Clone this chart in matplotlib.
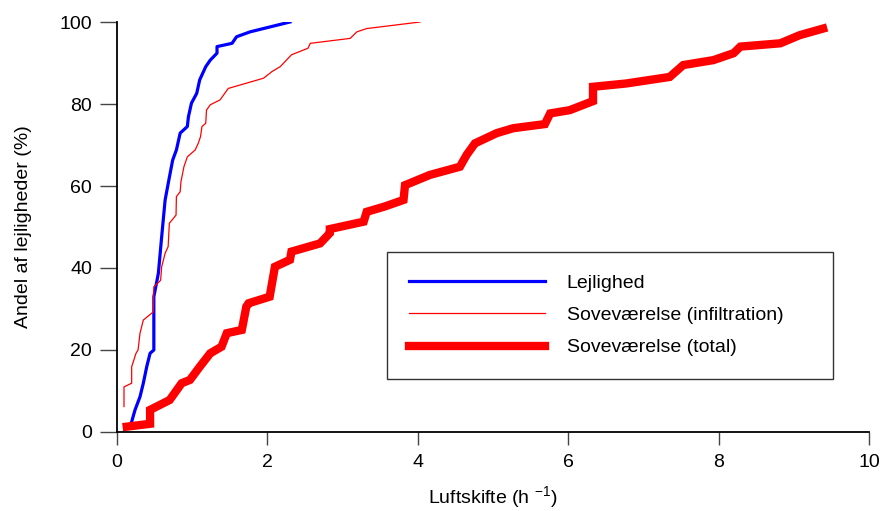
import matplotlib
matplotlib.use("Agg")
import matplotlib.pyplot as plt

plt.rcParams['font.family'] = ['Liberation Sans', 'DejaVu Sans']
plt.rcParams['mathtext.default'] = 'regular'

# Lejlighed (apartment)
lej_x = [0.195, 0.24, 0.306, 0.35, 0.395, 0.44, 0.49, 0.49, 0.55, 0.594, 0.64, 0.69,
         0.74, 0.79, 0.84, 0.935, 0.95, 0.99, 1.06, 1.10, 1.18, 1.24, 1.33, 1.33,
         1.53, 1.59, 1.77, 2.30]
lej_y = [2.5, 5.4, 8.6, 11.9, 15.9, 19.2, 20, 33, 38.7, 47.6, 56.6, 61.5,
         66.3, 68.8, 72.9, 74.5, 76.9, 80.2, 82.6, 85.9, 89.1, 90.7, 92.4, 94,
         94.8, 96.4, 97.6, 100]

# Soveværelse (infiltration)
inf_x = [0.093, 0.093, 0.195, 0.195, 0.253, 0.28, 0.306, 0.35, 0.483, 0.49, 0.58,
         0.594, 0.64, 0.68, 0.696, 0.785, 0.79, 0.84, 0.85, 0.89, 0.935, 1.04,
         1.08, 1.11, 1.13, 1.18, 1.19, 1.24, 1.37, 1.48, 1.95, 2.06, 2.17, 2.32,
         2.54, 2.57, 3.10, 3.19, 3.32, 4.03]
inf_y = [6.2, 11, 11.9, 15.9, 19.2, 20, 24.1, 27.3, 29.3, 35.4, 37,
         40.3, 43.6, 45.2, 50.9, 52.9, 57.4, 58.6, 61, 64.7, 67.1, 68.8,
         70.4, 72, 74.5, 75.3, 78.5, 79.8, 81, 83.8, 86.3, 87.9, 89.1, 92,
         93.6, 94.8, 96, 97.6, 98.4, 100]

# Soveværelse (total)
tot_x = [0.13, 0.44, 0.44, 0.70, 0.86, 0.97, 1.10, 1.24, 1.39, 1.46, 1.66, 1.72,
         1.75, 2.03, 2.10, 2.30, 2.32, 2.70, 2.83, 2.83, 3.28, 3.32, 3.56, 3.81,
         3.83, 4.16, 4.56, 4.65, 4.76, 5.05, 5.27, 5.69, 5.76, 6.02, 6.33, 6.33,
         6.77, 7.35, 7.53, 7.93, 8.20, 8.29, 8.82, 9.08, 9.39]
tot_y = [1.3, 2, 5.4, 7.8, 11.9, 12.7, 15.9, 19.2, 20.8, 24.1, 24.9, 30.6,
         31.4, 33, 40.3, 42, 44, 46, 48.5, 49.5, 51.3, 53.7, 55, 56.6,
         60.2, 62.7, 64.7, 67.6, 70.4, 72.9, 74.1, 75.1, 77.7, 78.5, 80.7, 84.2,
         85, 86.6, 89.5, 90.7, 92.4, 94, 94.8, 96.8, 98.4]

fig = plt.figure(figsize=(8.8, 5.11), dpi=100)
ax = fig.add_axes([117/880, 1 - 432/511, 752/880, 410/511])

ax.plot(lej_x, lej_y, color='#0000ff', lw=2.3, label='Lejlighed')
ax.plot(inf_x, inf_y, color='#ff0000', lw=0.9, label='Soveværelse (infiltration)')
ax.plot(tot_x, tot_y, color='#ff0000', lw=6, label='Soveværelse (total)',
        solid_joinstyle='miter', clip_on=False)

ax.set_xlim(0, 10)
ax.set_ylim(0, 100)
ax.set_xticks([0, 2, 4, 6, 8, 10])
ax.set_yticks([0, 20, 40, 60, 80, 100])
ax.tick_params(labelsize=14, width=1, color='#444444', direction='out')
ax.tick_params(axis='y', length=12, pad=6)
ax.tick_params(axis='x', length=9.5, pad=6)
for s in ['top', 'right']:
    ax.spines[s].set_visible(False)
for s in ['left', 'bottom']:
    ax.spines[s].set_linewidth(1.3)

ax.set_xlabel('Luftskifte (h $^{-1}$)', fontsize=14, labelpad=10)
ax.set_ylabel('Andel af lejligheder (%)', fontsize=14, labelpad=20)

leg = ax.legend(loc='upper left',
                bbox_to_anchor=(387/880, 1 - 252/511, 446/880, 0),
                bbox_transform=fig.transFigure, mode='expand',
                fontsize=14, frameon=True,
                fancybox=False, edgecolor='black', handlelength=7.0,
                handletextpad=1.1, borderpad=1.15, labelspacing=0.75,
                borderaxespad=0)
leg.get_frame().set_linewidth(1.0)

fig.savefig('out.png', dpi=100)
